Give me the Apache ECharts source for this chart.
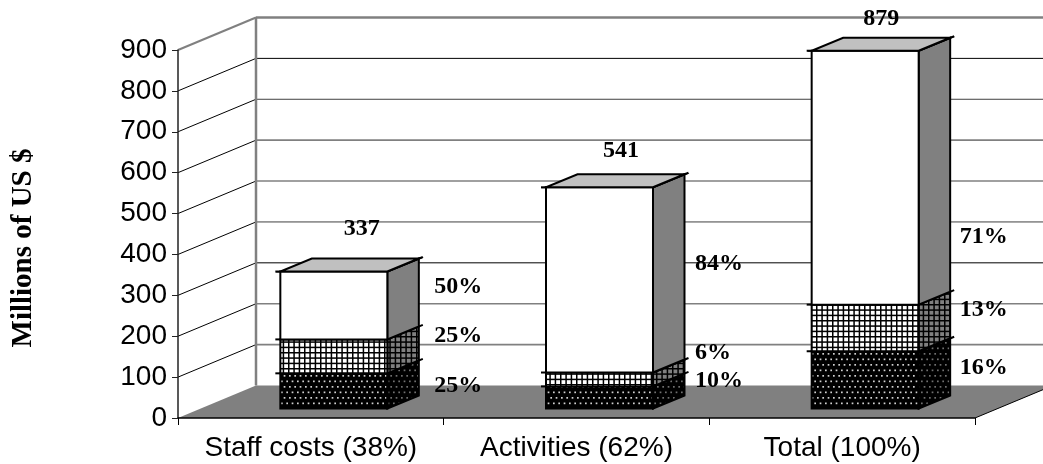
<!DOCTYPE html>
<html>
<head>
<meta charset="utf-8">
<style>html,body{margin:0;padding:0;background:#fff}#c{width:1043px;height:464px}</style>
<script src="https://cdn.jsdelivr.net/npm/echarts@6/dist/echarts.min.js"></script>
</head>
<body>
<div id="c"></div>
<script>
// ---- data ----
const categories = ['Staff costs (38%)', 'Activities (62%)', 'Total (100%)'];
const baseValues = [86, 54, 140];      // dark dotted layer
const middleValues = [83, 34, 114];    // checked layer
const upperValues = [166, 453, 621];   // plain layer
const totals = [337, 541, 879];
const basePct = ['25%', '10%', '16%'];
const middlePct = ['25%', '6%', '13%'];
const upperPct = ['50%', '84%', '71%'];
const axisTicks = [0, 100, 200, 300, 400, 500, 600, 700, 800, 900];
// where the hand-placed labels sit, in axis units
const basePctAt = [56, 68, 100];
const middlePctAt = [178, 137, 242];
const upperPctAt = [298, 355, 420];
const totalAt = [440, 630, 952];
// ---- look ----
const gridShades = ['#808080', '#808080', '#808080', '#000000', '#404040', '#808080', '#808080', '#404040', '#000000', '#808080'];
const gridWidths = [1, 1.6, 1.6, 1, 1, 1.6, 1.6, 1, 1, 2.5];
const DEPTH = {wallX: 78, wallY: 32.5, frontX: 23, frontY: 9.5, barX: 31.5, barY: 13};
const BAR_SHARE = 107 / 265.67;
const PCT_GAP = [47, 42, 41];
const TOTAL_SHIFT = [51, 44.5, 39];
const serif = '"Liberation Serif"', sans = '"Liberation Sans"';

function tile(w, h, draw) {
  const cv = document.createElement('canvas');
  cv.width = w; cv.height = h;
  draw(cv.getContext('2d'));
  return {image: cv, repeat: 'repeat'};
}
function checks(bg) {
  return tile(16, 16, g => {
    g.fillStyle = bg; g.fillRect(0, 0, 16, 16);
    g.fillStyle = '#000';
    [0, 5.33, 10.67].forEach(p => { g.fillRect(p, 0, 1.5, 16); g.fillRect(0, p, 16, 1.5); });
  });
}
function dots(col) {
  return tile(16, 11, g => {
    g.fillStyle = '#000'; g.fillRect(0, 0, 16, 11);
    g.fillStyle = col;
    [1, 6.33, 11.67].forEach(x => g.fillRect(x, 1, 1.7, 1.7));
    [3.67, 9, 14.33].forEach(x => g.fillRect(x, 6.5, 1.7, 1.7));
  });
}
const layers = [
  {front: dots('#d0d0d0'), side: dots('#707070'), values: baseValues, below: () => 0},
  {front: checks('#ffffff'), side: checks('#808080'), values: middleValues, below: i => baseValues[i]},
  {front: '#ffffff', side: '#808080', values: upperValues, below: i => baseValues[i] + middleValues[i]}
];
const line = (x1, y1, x2, y2, stroke, lineWidth) => ({
  type: 'line', shape: {x1, y1, x2, y2}, style: {stroke, lineWidth, fill: null}
});
const poly = (points, fill, stroke, lineWidth) => ({
  type: 'polygon', shape: {points}, style: {fill, stroke: stroke || null, lineWidth: lineWidth || 0}
});

function renderFloor(params, api) {
  const c = params.coordSys, yb = c.y + c.height, xr = c.x + c.width, d = DEPTH;
  return {type: 'group', children: [
    poly([[c.x, yb], [xr, yb], [xr + d.wallX, yb - d.wallY], [c.x + d.wallX, yb - d.wallY]], '#808080'),
    line(xr, yb, xr + d.wallX, yb - d.wallY, '#000', 1)
  ]};
}
function renderWall(params, api) {
  const c = params.coordSys, d = DEPTH, v = api.value(0);
  const y = api.coord([0, v])[1], top = v === axisTicks[axisTicks.length - 1];
  const kids = [];
  if (v > 0) {
    const col = gridShades[params.dataIndex];
    kids.push(line(c.x, y, c.x + d.wallX, y - d.wallY, top ? '#808080' : '#000', top ? 2 : 1));
    kids.push(line(c.x + d.wallX, y - d.wallY, c.x + c.width + d.wallX, y - d.wallY, col, gridWidths[params.dataIndex]));
  }
  if (top) kids.push(line(c.x + d.wallX, y - d.wallY, c.x + d.wallX, c.y + c.height - d.wallY, '#808080', 2.5));
  return {type: 'group', children: kids};
}
function renderBar(layer, params, api) {
  const d = DEPTH, i = api.value(0), lo = api.value(1), hi = api.value(2);
  const band = api.size([1, 0])[0], w = band * BAR_SHARE;
  const cx = api.coord([i, 0])[0] + d.frontX;
  const x0 = cx - w / 2, x1 = cx + w / 2;
  const yLo = api.coord([i, lo])[1] - d.frontY, yHi = api.coord([i, hi])[1] - d.frontY;
  const bx = d.barX, by = d.barY;
  const isTop = layer === layers[layers.length - 1];
  const kids = [
    poly([[x1, yLo], [x1 + bx, yLo - by], [x1 + bx, yHi - by], [x1, yHi]], layer.side, '#000', 2),
    {type: 'rect', shape: {x: x0, y: yHi, width: w, height: yLo - yHi}, style: {fill: layer.front, stroke: '#000', lineWidth: 2}},
    line(x0 - 5, yHi, x0, yHi, '#000', 2),
    line(x1, yHi, x1 + bx + 4, yHi - by - 1.5, '#000', 2)
  ];
  if (isTop) kids.push(poly([[x0, yHi], [x1, yHi], [x1 + bx, yHi - by], [x0 + bx, yHi - by]], '#c0c0c0', '#000', 2));
  return {type: 'group', children: kids};
}
function renderPct(texts, params, api) {
  const i = api.value(0), pos = api.coord([i, api.value(1)]);
  const band = api.size([1, 0])[0], w = band * BAR_SHARE;
  return {type: 'text', style: {
    x: pos[0] + DEPTH.frontX + w / 2 + PCT_GAP[i], y: pos[1] - DEPTH.frontY,
    text: texts[i], fill: '#000', font: 'bold 24px ' + serif, textAlign: 'left', textVerticalAlign: 'middle'
  }};
}
function renderTotal(params, api) {
  const i = api.value(0), pos = api.coord([i, api.value(1)]);
  return {type: 'text', style: {
    x: pos[0] + TOTAL_SHIFT[i], y: pos[1] - DEPTH.frontY,
    text: String(totals[i]), fill: '#000', font: 'bold 24px ' + serif, textAlign: 'center', textVerticalAlign: 'middle'
  }};
}

const series = [
  {type: 'custom', z: 1, silent: true, data: [[0]], renderItem: renderFloor},
  {type: 'custom', z: 2, silent: true, data: axisTicks.map(v => [v]), renderItem: renderWall}
];
layers.forEach((layer, n) => series.push({
  type: 'custom', z: 10 + n, silent: true,
  data: categories.map((_, i) => [i, layer.below(i), layer.below(i) + layer.values[i]]),
  renderItem: (p, a) => renderBar(layer, p, a)
}));
[[basePct, basePctAt], [middlePct, middlePctAt], [upperPct, upperPctAt]].forEach(([texts, at]) => series.push({
  type: 'custom', z: 20, silent: true,
  data: categories.map((_, i) => [i, at[i]]),
  renderItem: (p, a) => renderPct(texts, p, a)
}));
series.push({
  type: 'custom', z: 20, silent: true,
  data: categories.map((_, i) => [i, totalAt[i]]),
  renderItem: renderTotal
});

const chart = echarts.init(document.getElementById('c'), null, {renderer: 'canvas'});
chart.setOption({
  animation: false,
  backgroundColor: '#fff',
  grid: {left: 178, right: 68, top: 50, bottom: 46},
  xAxis: {
    type: 'category', data: categories, z: 5,
    axisLine: {lineStyle: {color: '#000', width: 1.5}},
    axisTick: {show: true, length: 7, lineStyle: {color: '#000'}},
    axisLabel: {color: '#000', fontFamily: sans, fontSize: 28, margin: 16, interval: 0}
  },
  yAxis: {
    type: 'value', min: 0, max: 900, interval: 100, z: 5,
    axisLine: {show: true, lineStyle: {color: '#222', width: 1.5}},
    axisTick: {show: true, length: 6, lineStyle: {color: '#222'}},
    axisLabel: {color: '#000', fontFamily: sans, fontSize: 28, margin: 11},
    splitLine: {show: false}
  },
  graphic: [{
    type: 'text', x: 24, y: 248, rotation: Math.PI / 2, silent: true,
    style: {text: 'Millions of US $', fill: '#000', font: 'bold 29px ' + serif, textAlign: 'center', textVerticalAlign: 'middle'}
  }],
  series
});
</script>
</body>
</html>
